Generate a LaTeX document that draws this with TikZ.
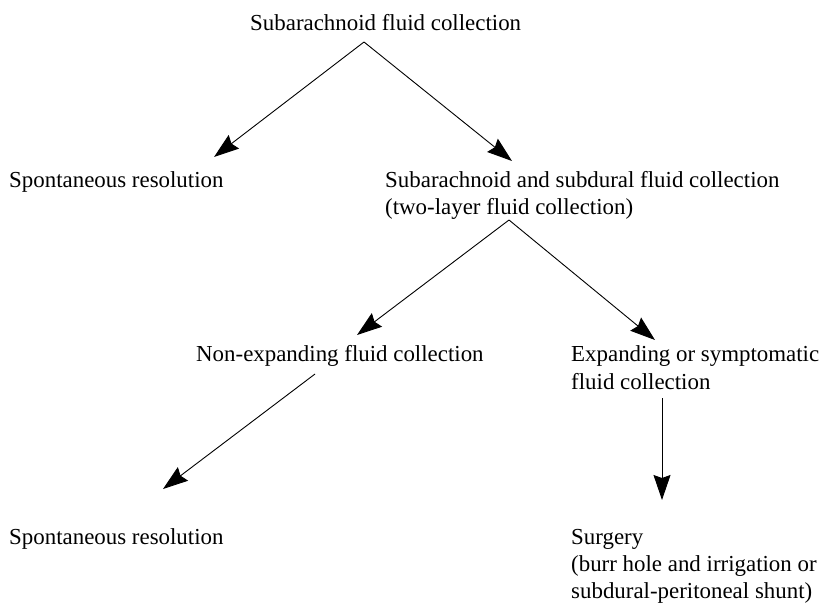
\documentclass[tikz,border=0pt]{standalone}
\usepackage{fontspec}
\setmainfont{Liberation Serif}
\usetikzlibrary{arrows.meta}
\begin{document}
\begin{tikzpicture}[x=1pt,y=-1pt,
  lbl/.style={anchor=base west,inner sep=0pt,font=\fontsize{22.9}{27}\selectfont},
  arr/.style={line width=0.9pt,-{Stealth[length=25pt,width=17pt,inset=3pt]}}]
\useasboundingbox (0,0) rectangle (819,605);
\node[lbl] (title) at (250,30) {Subarachnoid fluid collection};
\node[lbl] (spontA) at (9,187) {Spontaneous resolution};
\node[lbl] (subA) at (385,187) {Subarachnoid and subdural fluid collection};
\node[lbl] (subB) at (385,214) {(two-layer fluid collection)};
\node[lbl] (nonexp) at (196,361) {Non-expanding fluid collection};
\node[lbl] (expA) at (571,361) {Expanding or symptomatic};
\node[lbl] (expB) at (571,389) {fluid collection};
\node[lbl] (spontB) at (9,544) {Spontaneous resolution};
\node[lbl] (surgA) at (571,544) {Surgery};
\node[lbl] (surgB) at (571,571) {(burr hole and irrigation or};
\node[lbl] (surgC) at (571,598) {subdural-peritoneal shunt)};
\coordinate (p1) at (364,42);
\coordinate (t1) at (214,157);
\coordinate (t2) at (512,161);
\coordinate (p2) at (509,220);
\coordinate (t3) at (357,335);
\coordinate (t4) at (655,340);
\coordinate (p3) at (315,374);
\coordinate (t5) at (163,489);
\coordinate (p4) at (662,398);
\coordinate (t6) at (662,500);
\draw[arr] (p1) -- (t1);
\draw[arr] (p1) -- (t2);
\draw[arr] (p2) -- (t3);
\draw[arr] (p2) -- (t4);
\draw[arr] (p3) -- (t5);
\draw[arr] (p4) -- (t6);
\end{tikzpicture}
\end{document}
